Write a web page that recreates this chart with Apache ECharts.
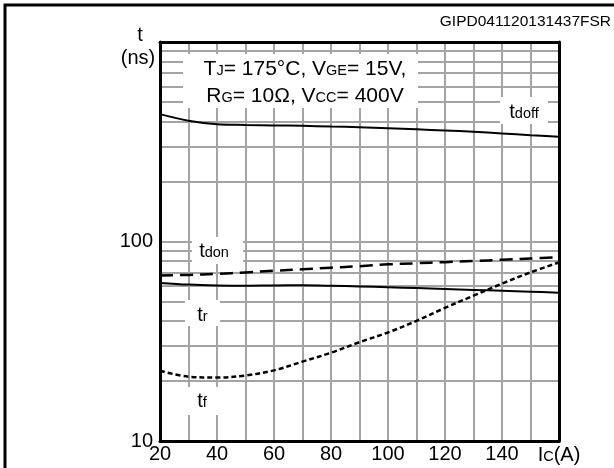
<!DOCTYPE html>
<html><head><meta charset="utf-8">
<script src="https://cdn.jsdelivr.net/npm/echarts@6/dist/echarts.min.js"></script>
<style>html,body{margin:0;padding:0;background:#fff}#c{width:614px;height:468px}</style>
</head><body><div id="c"></div>
<script>
// ---- data ----
const currentA = [20, 30, 40, 50, 60, 70, 80, 90, 100, 110, 120, 130, 140, 150, 160];
const tdoffNs = [435, 403, 387, 384, 382, 380, 377, 374, 370, 365, 360, 355, 348, 341, 335];
const tdonNs  = [67.6, 68.0, 68.8, 70.0, 71.3, 72.6, 73.9, 75.2, 76.8, 77.8, 78.8, 79.8, 81.0, 82.2, 83.3];
const trNs    = [62.0, 60.8, 60.2, 60.0, 60.2, 60.3, 60.0, 59.5, 59.0, 58.4, 57.8, 57.2, 56.6, 56.0, 55.4];
const tfNs    = [22.5, 21.0, 20.8, 21.3, 22.6, 25.0, 27.7, 31.3, 35.0, 40.0, 46.5, 53.5, 61.5, 70.0, 78.6];
const xTickLabels = ['20', '40', '60', '80', '100', '120', '140'];
const yTickLabels = ['10', '100'];
const vGridA = [30, 40, 50, 60, 70, 80, 90, 100, 110, 120, 130, 140, 150];
const hGridNs = [20, 30, 40, 50, 60, 70, 80, 90, 100, 200, 300, 400, 500, 600, 700, 800, 900];

const FONT = '"Liberation Sans", Arial, Helvetica, sans-serif';
const GRIDC = '#a4a4a4';
const pair = arr => currentA.map((x, i) => [x, arr[i]]);

const chart = echarts.init(document.getElementById('c'), null, { renderer: 'canvas' });

const subRich = (big, small, lh) => ({
  b: { fontSize: big, fontFamily: FONT, color: '#000', lineHeight: lh },
  s: { fontSize: small, fontFamily: FONT, color: '#000', verticalAlign: 'middle', padding: [4, 0, 0, 0] }
});

const curve = (name, arr, type, width) => ({
  name, type: 'line', data: pair(arr), z: 3, symbol: 'none', smooth: 0.35, silent: true,
  lineStyle: { color: '#000', width, type }
});

const labelBox = (x, y, w, h, cx, cy, text) => ([
  { type: 'rect', z: 5, shape: { x, y, width: w, height: h }, style: { fill: '#fff' } },
  { type: 'text', z: 6, style: { text, x: cx, y: cy, align: 'center', verticalAlign: 'middle', rich: subRich(20, 14.5, 22) } }
]);

const option = {
  animation: false,
  backgroundColor: '#fff',
  grid: { left: 160, right: 55, top: 42, bottom: 27 },
  xAxis: [{
    type: 'value', min: 20, max: 160, interval: 10, z: 10,
    axisLine: { show: true, onZero: false, lineStyle: { color: '#000', width: 3 } },
    axisTick: { show: false }, splitLine: { show: false },
    axisLabel: {
      margin: 3, fontSize: 20, fontFamily: FONT, color: '#000',
      formatter: v => v === 160 ? '{b|I}{s|C}{b|(A)}' : (xTickLabels.includes(String(v)) ? String(v) : ''),
      rich: subRich(20, 14.5, 22)
    }
  }, {
    type: 'value', position: 'top', min: 20, max: 160, interval: 10, z: 10,
    axisLine: { show: true, onZero: false, lineStyle: { color: '#000', width: 3 } },
    axisTick: { show: false }, axisLabel: { show: false }, splitLine: { show: false }
  }],
  yAxis: [{
    type: 'log', logBase: 10, min: 10, max: 1000, z: 10,
    axisLine: { show: true, onZero: false, lineStyle: { color: '#000', width: 3 } },
    axisTick: { show: false }, splitLine: { show: false }, minorTick: { show: false }, minorSplitLine: { show: false },
    axisLabel: {
      margin: 7, fontSize: 20, fontFamily: FONT, color: '#000', padding: [0, 0, 6, 0],
      formatter: v => { const s = String(Math.round(v)); return yTickLabels.includes(s) ? s : ''; }
    }
  }, {
    type: 'log', logBase: 10, min: 10, max: 1000, position: 'right', z: 10,
    axisLine: { show: true, onZero: false, lineStyle: { color: '#000', width: 3 } },
    axisTick: { show: false }, axisLabel: { show: false }, splitLine: { show: false }
  }],
  series: [
    {
      type: 'line', data: [], z: 1, silent: true, symbol: 'none',
      markLine: {
        silent: true, symbol: 'none', z: 1, animation: false,
        label: { show: false },
        lineStyle: { color: GRIDC, width: 2, type: 'solid' },
        data: [...vGridA.map(v => ({ xAxis: v })), ...hGridNs.map(v => ({ yAxis: v }))]
      }
    },
    curve('tdoff', tdoffNs, 'solid', 2),
    curve('tdon', tdonNs, [13, 7], 2.5),
    curve('tr', trNs, 'solid', 2),
    curve('tf', tfNs, [5, 3], 2.5)
  ],
  graphic: [
    { type: 'rect', z: 20, shape: { x: 5, y: 5, width: 720, height: 600 }, style: { fill: 'none', stroke: '#000', lineWidth: 3 } },
    { type: 'text', z: 20, style: { text: 'GIPD041120131437FSR', x: 611, y: 22, align: 'right', verticalAlign: 'middle', fontSize: 15.5, fontFamily: FONT, fill: '#000' } },
    { type: 'text', z: 20, style: { text: 't', x: 140, y: 35, align: 'center', verticalAlign: 'middle', fontSize: 20, fontFamily: FONT, fill: '#000' } },
    { type: 'text', z: 20, style: { text: '(ns)', x: 138, y: 58, align: 'center', verticalAlign: 'middle', fontSize: 20, fontFamily: FONT, fill: '#000' } },
    { type: 'rect', z: 5, shape: { x: 183, y: 54, width: 235, height: 54 }, style: { fill: '#fff' } },
    { type: 'text', z: 6, style: {
      text: '{b|T}{s|J}{b|= 175°C, V}{s|GE}{b|= 15V,}\n{b|R}{s|G}{b|= 10Ω, V}{s|CC}{b|= 400V}',
      x: 305, y: 82.5, align: 'center', verticalAlign: 'middle', rich: subRich(21, 14.5, 27) } },
    ...labelBox(500, 97, 48, 27, 524, 112, '{b|t}{s|doff}'),
    ...labelBox(192, 237, 51, 27, 214, 251, '{b|t}{s|don}'),
    ...labelBox(185, 300, 35, 26, 202.5, 315, '{b|t}{s|r}'),
    ...labelBox(185, 387, 35, 28, 202, 401, '{b|t}{s|f}')
  ]
};
chart.setOption(option);
</script>
</body></html>
